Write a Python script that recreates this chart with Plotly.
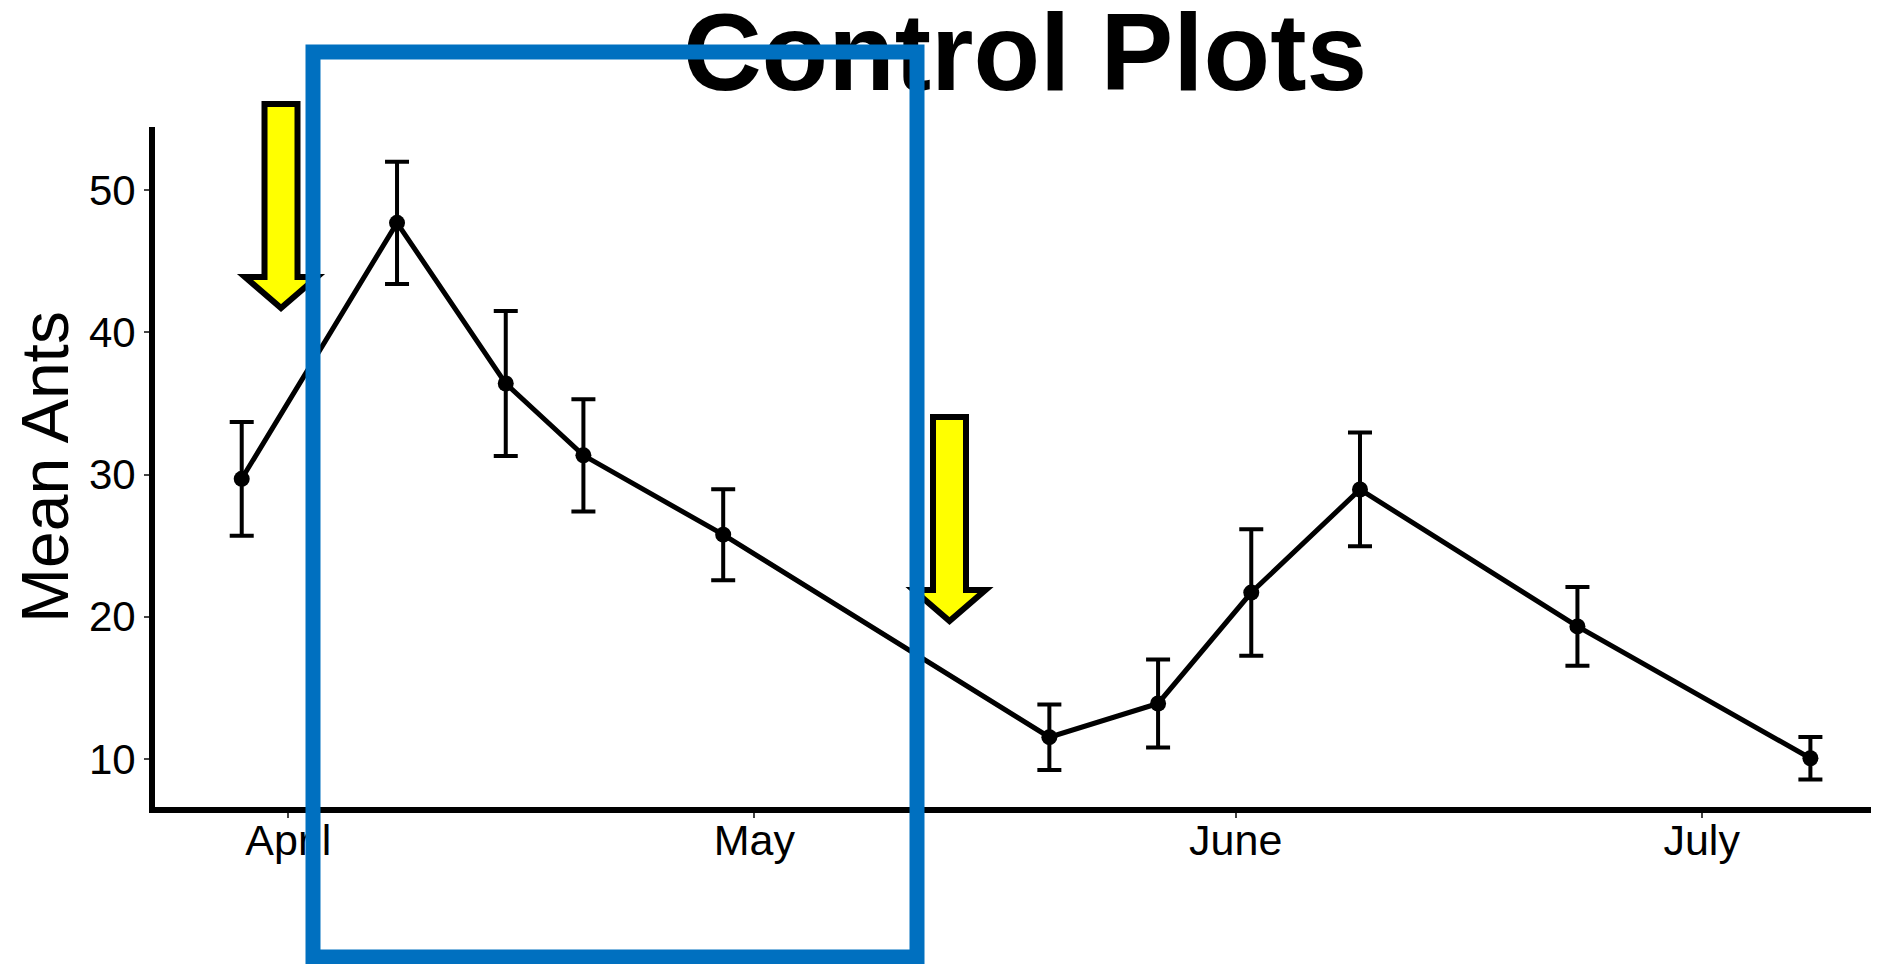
import plotly.graph_objects as go

# survey dates, mean ant counts and their error bars
dates = ["2019-03-29", "2019-04-08", "2019-04-15", "2019-04-20", "2019-04-29",
         "2019-05-20", "2019-05-27", "2019-06-02", "2019-06-09", "2019-06-23",
         "2019-07-08"]
mean_ants = [29.7, 47.7, 36.4, 31.35, 25.77, 11.53, 13.9, 21.7, 28.95, 19.32, 10.05]
err = [4.0, 4.3, 5.1, 3.95, 3.2, 2.3, 3.1, 4.45, 4.0, 2.77, 1.5]

x_range = ["2019-03-23 10:00", "2019-07-12 10:00"]
y_ticks = [10, 20, 30, 40, 50]
y_range = [6.62, 54.44]

title_text = "Control Plots"
y_title = "Mean Ants"

FONT = "Liberation Sans, Arial, sans-serif"
OFF = 8  # page body margin, figure starts 8px in from the window corner
W, H = 1879 - OFF, 964 - OFF
L, R, T, B = 147, 0, 119, 157
PW, PH = W - L - R, H - T - B


# window pixel -> paper helpers for the overlay drawing
def px(x):
    return (x - OFF - L) / PW


def py(y):
    return (H - B - (y - OFF)) / PH


def arrow_path(cx, top):
    # down arrow, shaft 33 wide, head 73 wide
    pts = [(-16.5, 3), (16.5, 3), (16.5, 176), (36, 176), (0, 207),
           (-36, 176), (-16.5, 176)]
    s = "M " + " L ".join("%.5f,%.5f" % (px(cx + dx), py(top + dy)) for dx, dy in pts)
    return s + " Z"


fig = go.Figure()
fig.add_trace(go.Scatter(
    x=dates, y=mean_ants, mode="lines+markers",
    line=dict(color="black", width=5),
    marker=dict(color="black", size=16),
    error_y=dict(type="data", array=err, visible=True, color="black",
                 thickness=4, width=12),
    showlegend=False,
))

shapes = []
for cx, top in [(281, 101), (949.5, 414)]:
    shapes.append(dict(type="path", xref="paper", yref="paper", path=arrow_path(cx, top),
                       fillcolor="#FFFF00", line=dict(color="black", width=6), layer="above"))
# title drawn as shape label so the blue box can sit on top of it
shapes.append(dict(type="rect", xref="paper", yref="paper",
                   x0=px(660), x1=px(1390), y0=py(97), y1=py(-13),
                   line=dict(width=0), fillcolor="rgba(0,0,0,0)", layer="above",
                   label=dict(text=title_text, textposition="middle center",
                              font=dict(family=FONT, size=109, color="black", weight="bold"))))
shapes.append(dict(type="rect", xref="paper", yref="paper",
                   x0=px(313), x1=px(917), y0=py(957), y1=py(52),
                   line=dict(color="#0070C0", width=15), layer="above"))

fig.update_layout(
    width=W, height=H,
    margin=dict(l=L, r=R, t=T, b=B, autoexpand=False),
    paper_bgcolor="white", plot_bgcolor="white",
    font=dict(family=FONT, color="black"),
    shapes=shapes,
    xaxis=dict(range=x_range, type="date", tickformat="%B", dtick="M1",
               tick0="2019-04-01", showgrid=False, zeroline=False,
               showline=True, linecolor="black", linewidth=6,
               ticks="outside", ticklen=5, tickwidth=1.5, tickcolor="#444",
               ticklabelstandoff=-15,
               tickfont=dict(size=43, color="black")),
    yaxis=dict(range=y_range, tickvals=y_ticks, showgrid=False, zeroline=False,
               showline=True, linecolor="black", linewidth=6,
               ticks="outside", ticklen=5, tickwidth=1.5, tickcolor="#444",
               tickfont=dict(size=42, color="black"),
               title=dict(text=y_title, font=dict(size=66, color="black"), standoff=7)),
)

fig.write_html("out.html")
